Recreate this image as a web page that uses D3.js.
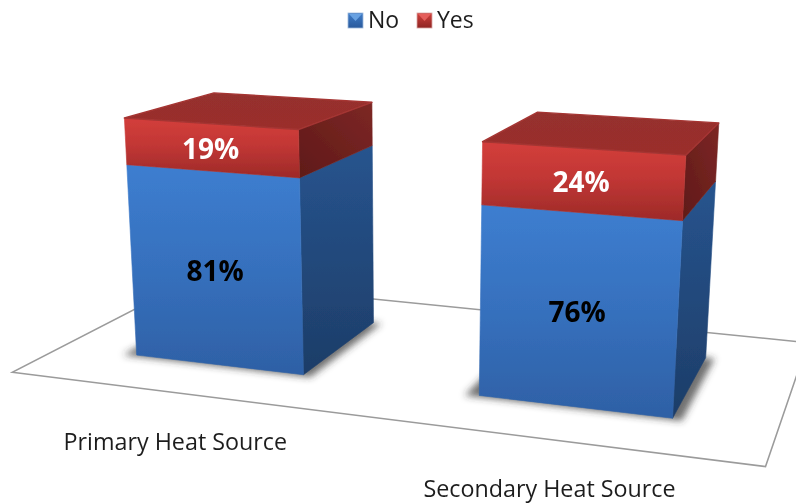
<!DOCTYPE html><html><head><meta charset="utf-8"><style>html,body{margin:0;padding:0;background:#fff}svg{display:block}</style>
<script src="https://cdn.jsdelivr.net/npm/d3@7"></script></head><body><svg id="c" width="796" height="504"></svg>
<script>
const categories=["Primary Heat Source","Secondary Heat Source"];
const seriesNames=["No","Yes"];
const noValues=[81,76];
const yesValues=[19,24];

// Pinhole camera fitted to the reference: world (x across, y up, z deep) -> page pixels
const cam=[321.06771,-18.34133,222.12043,12.23477,13.25856,-251.51099,-27.13117,372.3157,-0.07259,-0.04469,0.23012];
const project=(X,Y,Z)=>{const w=cam[8]*X+cam[9]*Y+cam[10]*Z+1;
  return [(cam[0]*X+cam[1]*Y+cam[2]*Z+cam[3])/w,(cam[4]*X+cam[5]*Y+cam[6]*Z+cam[7])/w];};

const xBand=d3.scaleBand().domain(categories).range([-0.0115,1.9885]).paddingInner(0.495).paddingOuter(0.2475);
const yVal=d3.scaleLinear().domain([0,100]).range([0,1]);
const zNear=0.243,zFar=0.758;

const rows=categories.map((c,i)=>({cat:c,No:noValues[i],Yes:yesValues[i]}));
const stacked=d3.stack().keys(seriesNames)(rows);

const svg=d3.select("#c");
const defs=svg.append("defs");
function grad(id,x1,y1,x2,y2,stops){const g=defs.append("linearGradient").attr("id",id).attr("x1",x1).attr("y1",y1).attr("x2",x2).attr("y2",y2);
  stops.forEach(([o,c])=>g.append("stop").attr("offset",o).attr("stop-color",c));}
grad("fNo",0,0,0,1,[[0,"#3d7ed0"],[0.5,"#3670bd"],[1,"#2e60a5"]]);
grad("sNo",0,0,0,1,[[0,"#27548e"],[1,"#1d3d68"]]);
grad("fYes",0,0,0,1,[[0,"#d33e3b"],[0.45,"#c23735"],[1,"#9d2a28"]]);
grad("sYes",1,0,0,1,[[0,"#7d2725"],[1,"#5f1a18"]]);
grad("tYes",0,0,0,1,[[0,"#95302d"],[1,"#9b2e2c"]]);
grad("lgNo",0,0,0,1,[[0,"#3f7cc8"],[1,"#2a5a9c"]]);
grad("lgYes",0,0,0,1,[[0,"#d0403c"],[1,"#8f2523"]]);
defs.append("filter").attr("id","soft").attr("x","-30%").attr("y","-30%").attr("width","160%").attr("height","160%")
  .append("feGaussianBlur").attr("stdDeviation",3.5);
defs.append("filter").attr("id","aa").attr("x","-5%").attr("y","-5%").attr("width","110%").attr("height","110%")
  .append("feGaussianBlur").attr("stdDeviation",0.55);
defs.append("filter").attr("id","ta").attr("x","-5%").attr("y","-20%").attr("width","110%").attr("height","140%")
  .append("feGaussianBlur").attr("stdDeviation",0.3);

const path=d3.line().curve(d3.curveLinearClosed);

// floor
svg.append("path").attr("d",path([[0,0],[2,0],[2,1],[0,1]].map(([x,z])=>project(x,0,z))))
  .attr("fill","#fff").attr("stroke","#9b9b9b").attr("stroke-width",1.5).attr("stroke-linejoin","miter");

// shadows
const shadows=svg.append("g");
categories.forEach(c=>{const a=xBand(c),b=a+xBand.bandwidth();
  shadows.append("path").attr("d",path([[a-0.035,zNear-0.012],[b+0.025,zNear-0.012],[b+0.025,zFar],[a-0.035,zFar]].map(([x,z])=>project(x,0,z))))
    .attr("fill","#333").attr("fill-opacity",0.7).attr("filter","url(#soft)");});

// bars
const bars=svg.append("g").attr("filter","url(#aa)");
categories.forEach((c,i)=>{const a=xBand(c),b=a+xBand.bandwidth();
  const g=bars.append("g");
  stacked.forEach(s=>{const y0=yVal(s[i][0]),y1=yVal(s[i][1]),k=s.key;
    const face=(pts,fill)=>g.append("path").attr("d",path(pts.map(p=>project(...p))))
      .attr("fill",fill).attr("stroke",fill).attr("stroke-width",0.6).attr("stroke-linejoin","round");
    face([[b,y0,zNear],[b,y0,zFar],[b,y1,zFar],[b,y1,zNear]],`url(#s${k})`);
    face([[a,y0,zNear],[b,y0,zNear],[b,y1,zNear],[a,y1,zNear]],`url(#f${k})`);
    if(k===seriesNames[seriesNames.length-1]){
      const t=face([[a,y1,zNear],[b,y1,zNear],[b,y1,zFar],[a,y1,zFar]],"url(#tYes)");
      t.attr("stroke","#a53533").attr("stroke-width",1.4);
    }
  });
});

// data labels
const labels=svg.append("g").attr("filter","url(#ta)").attr("font-family","'Open Sans',sans-serif").attr("font-weight",700).attr("font-size",28).attr("text-anchor","middle");
categories.forEach((c,i)=>{const xm=xBand(c)+xBand.bandwidth()/2;
  stacked.forEach(s=>{const [x,y]=project(xm,yVal((s[i][0]+s[i][1])/2),zNear);
    labels.append("text").attr("x",x).attr("y",y+11).attr("fill",s.key==="No"?"#000":"#fff").text(s[i][1]-s[i][0]+"%");});});

// category axis
const axisG=svg.append("g").attr("filter","url(#ta)").attr("font-family","'Open Sans',sans-serif").attr("font-size",23.3).attr("fill","#1f1f1f").attr("text-anchor","middle");
categories.forEach(c=>{const [x,y]=project(xBand(c)+xBand.bandwidth()/2,0,0);
  axisG.append("text").attr("x",x).attr("y",y+57.5).text(c);});

// legend
const legX=d3.scaleOrdinal().domain(seriesNames).range([348,417]);
const lg=svg.append("g").attr("font-family","'Open Sans',sans-serif").attr("font-size",23).attr("fill","#1f1f1f");
seriesNames.forEach(n=>{const x=legX(n);
  lg.append("rect").attr("x",x).attr("y",13).attr("width",15).attr("height",15).attr("fill",`url(#lg${n})`).attr("stroke",n==="No"?"#9db9dc":"#d9a5a3").attr("stroke-width",0.8);
  lg.append("path").attr("d",`M${x+1},14 L${x+14},14 L${x+7.5},21 Z`).attr("fill",n==="No"?"#6ea6e6":"#e8625e").attr("fill-opacity",0.9);
  lg.append("text").attr("x",x+20).attr("y",28).attr("filter","url(#ta)").text(n);});
</script></body></html>
